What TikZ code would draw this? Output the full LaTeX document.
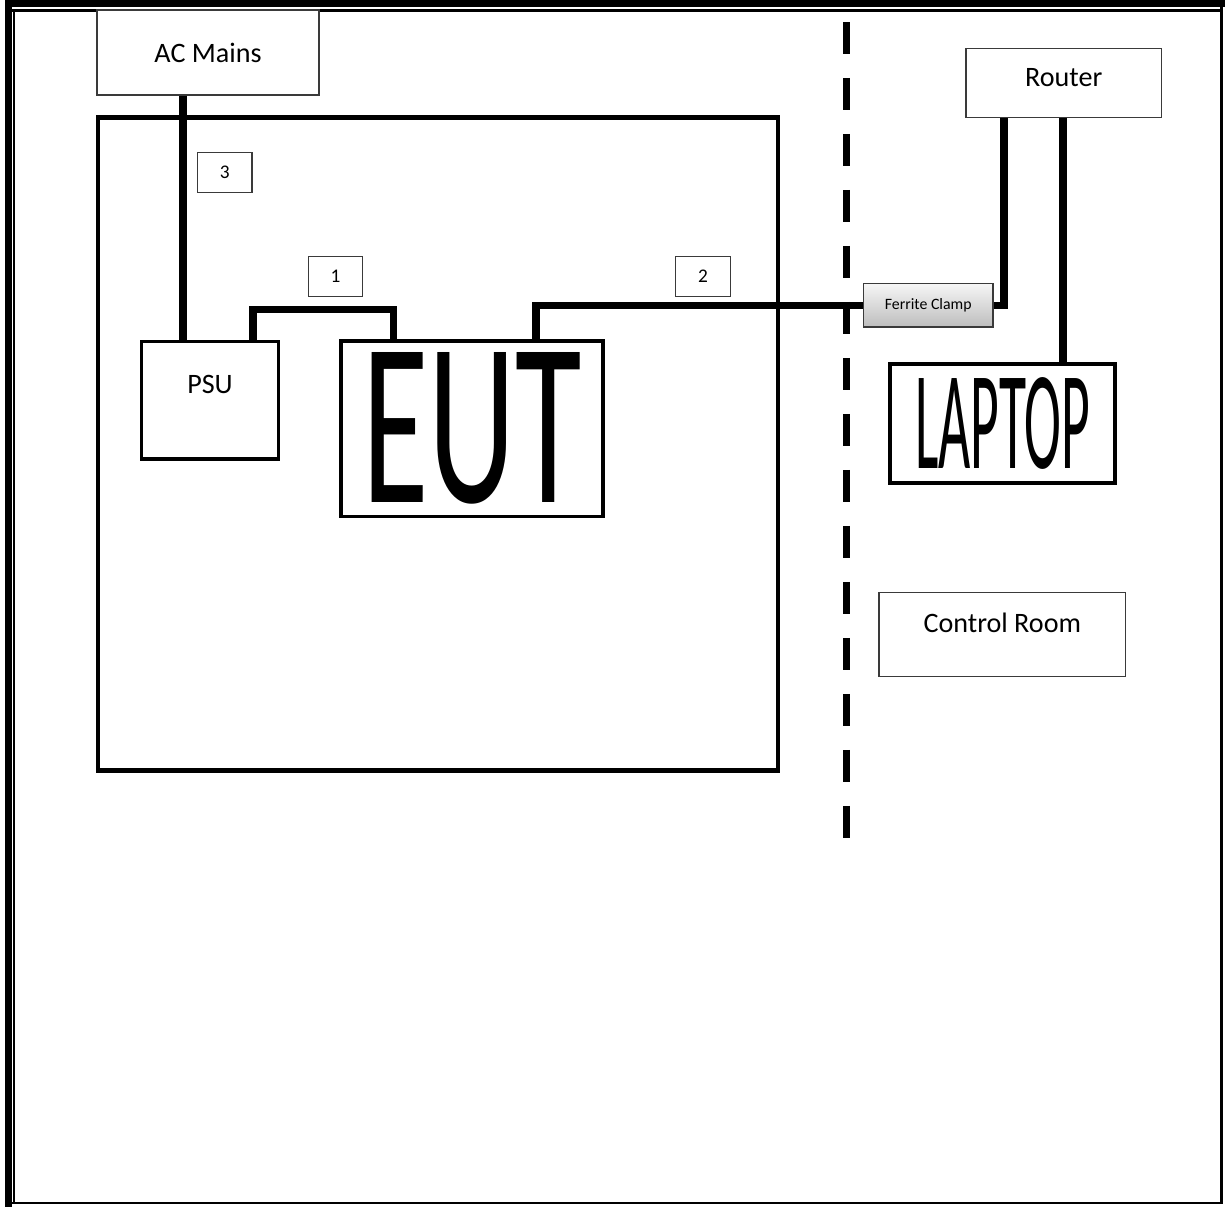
\documentclass[tikz,border=0pt]{standalone}
\usepackage{fontspec}
\setmainfont{Carlito}
\usepackage{graphicx}
\usepackage{tikz}
\usetikzlibrary{calc}
\definecolor{ink}{HTML}{000000}
\definecolor{boxline}{HTML}{3A3A3A}
\definecolor{clamptop}{HTML}{F6F6F6}
\definecolor{clampbot}{HTML}{BDBDBD}
\tikzset{
  cable/.style={line width=4pt,color=ink},
  partition/.style={line width=4.4pt,color=ink,dash pattern=on 0.64cm off 0.48cm},
  labelbox/.style={draw=boxline,line width=0.7pt,fill=white,align=center,font=\fontsize{16}{19}\selectfont},
  numbox/.style={draw=boxline,line width=0.7pt,fill=white,minimum width=1.09cm,minimum height=0.80cm,font=\fontsize{11}{13}\selectfont},
  unitbox/.style={draw=ink,line width=1.9pt,fill=white,inner sep=0pt},
  clampbox/.style={draw=boxline,line width=0.9pt,top color=clamptop,bottom color=clampbot,font=\fontsize{9}{11}\selectfont}
}

\begin{document}
\begin{tikzpicture}[x=0.02cm,y=-0.02cm]
  \useasboundingbox (0,0) rectangle (1225,1207);
  % page frame
  \draw[line width=0.13cm] (8.5,0) -- (8.5,1207);
  \draw[line width=0.14cm] (5,3.6) -- (1225,3.6);
  \draw[line width=0.054cm] (12,10.7) -- (1222,10.7);
  \draw[line width=0.04cm] (13.7,10) -- (13.7,1203);
  \draw[line width=0.054cm] (1221.3,0) -- (1221.3,1204);
  \draw[line width=0.048cm] (12,1202.8) -- (1222.7,1202.8);

  \node[draw=ink,line width=2.5pt,minimum width=13.6cm,minimum height=13.06cm] (room) at (438,444) {};
  \coordinate (walltop) at (846.5,22);
  \coordinate (wallbot) at (846.5,838);
  \draw[partition] (walltop) -- (wallbot);

  \node[labelbox,minimum width=4.44cm,minimum height=1.70cm] (mains) at (208,52.5) {AC Mains};
  \node[numbox] (n3) at (224.75,172.25) {3};
  \node[numbox] (n1) at (335.5,276.5) {1};
  \node[numbox] (n2) at (703,276.5) {2};
  \node[unitbox,minimum width=2.74cm,minimum height=2.35cm,font=\fontsize{16}{19}\selectfont,text depth=0.62cm] (psu) at (210,400.25) {PSU};
  \node[unitbox,line width=2pt,minimum width=5.24cm,minimum height=3.51cm] (eut) at (472,428.75) {\resizebox{4.4cm}{3.0cm}{EUT}};
  \node[clampbox,minimum width=2.59cm,minimum height=0.87cm] (clamp) at (928.25,305.25) {Ferrite Clamp};
  \node[labelbox,minimum width=3.91cm,minimum height=1.39cm,text depth=0.22cm] (router) at (1063.8,83) {Router};
  \node[unitbox,line width=2.2pt,minimum width=4.5cm,minimum height=2.38cm] (laptop) at (1002.5,423.5) {\resizebox{3.5cm}{1.82cm}{LAPTOP}};
  \node[labelbox,minimum width=4.93cm,minimum height=1.69cm,text depth=0.46cm] (ctrl) at (1002.3,634.5) {Control Room};

  % cables
  \draw[cable] (183,0 |- mains.south) -- (183,0 |- psu.north);
  \draw[cable] (253,0 |- psu.north) |- (393.5,309.5) -- (393.5,0 |- eut.north);
  \draw[cable] (536,0 |- eut.north) |- (clamp.west);
  \draw[cable] (clamp.east) -| (1004,0 |- router.south);
  \draw[cable] (1063,0 |- router.south) -- (1063,0 |- laptop.north);
\end{tikzpicture}
\end{document}
